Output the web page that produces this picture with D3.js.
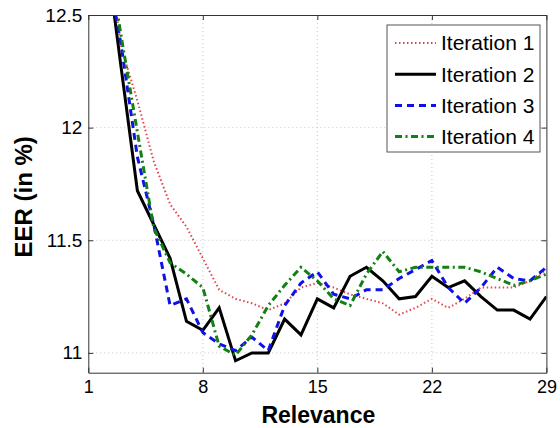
<!DOCTYPE html>
<html>
<head>
<meta charset="utf-8">
<style>
    body { margin: 0; background: #fff; }
    text { font-family: "Liberation Sans", Arial, Helvetica, sans-serif; fill: #000; }
</style>
<script src="https://cdn.jsdelivr.net/npm/d3@7/dist/d3.min.js"></script>
</head>
<body>
<svg id="chart" width="560" height="428"></svg>
<script>
var relevance = [1,2,3,4,5,6,7,8,9,10,11,12,13,14,15,16,17,18,19,20,21,22,23,24,25,26,27,28,29];

var iter1 = [13.60,12.90,12.36,12.12,11.85,11.66,11.56,11.42,11.28,11.24,11.22,11.19,11.22,11.29,11.31,
             11.29,11.26,11.24,11.22,11.17,11.20,11.24,11.20,11.24,11.29,11.29,11.29,11.32,11.37];
var iter2 = [13.50,12.83,12.27,11.72,11.57,11.42,11.14,11.10,11.20,10.965,11.00,11.00,11.15,11.08,11.24,
             11.20,11.34,11.38,11.32,11.24,11.25,11.34,11.29,11.32,11.25,11.19,11.19,11.15,11.25];
var iter3 = [13.40,12.77,12.37,11.87,11.57,11.21,11.24,11.09,11.04,11.01,11.07,11.01,11.21,11.31,11.36,
             11.26,11.24,11.28,11.28,11.33,11.37,11.41,11.29,11.22,11.29,11.38,11.33,11.32,11.38];
var iter4 = [13.30,12.86,12.41,11.98,11.555,11.40,11.35,11.29,11.03,10.99,11.08,11.21,11.30,11.38,11.32,
             11.24,11.21,11.35,11.45,11.36,11.38,11.38,11.38,11.38,11.36,11.33,11.30,11.32,11.35];

var seriesNames = ["Iteration 1", "Iteration 2", "Iteration 3", "Iteration 4"];
var xTicks = [1, 8, 15, 22, 29];
var yTicks = [11, 11.5, 12, 12.5];

// line look per series (matlab r: k- b-- g-.)
var styles = [
    {color: "#e0474c", width: 2, dash: "1.5,2.5"},
    {color: "#000000", width: 3, dash: null},
    {color: "#1010e8", width: 3, dash: "7,5"},
    {color: "#128012", width: 3, dash: "7,3.5,2,3.5"}
];

var svg = d3.select("#chart");
// note: "top" is taken by window.top, so plot box edges get their own names
var pLeft = 88.3, pRight = 546.4, pTop = 15, pBottom = 372.7;

var x = d3.scaleLinear().domain([1, 29]).range([pLeft, pRight]);
var y = d3.scaleLinear().domain([10.912, 12.5]).range([pBottom, pTop]);

svg.append("clipPath").attr("id", "plotclip")
    .append("rect")
    .attr("x", pLeft).attr("y", pTop)
    .attr("width", pRight - pLeft).attr("height", pBottom - pTop);

// grid, dotted like matlab
var grid = svg.append("g").attr("stroke", "#c4c4c4").attr("stroke-width", 1).attr("stroke-dasharray", "1,3");
grid.selectAll(".gx").data(xTicks.slice(1, -1)).join("line")
    .attr("x1", d => x(d)).attr("x2", d => x(d))
    .attr("y1", pTop).attr("y2", pBottom);
grid.selectAll(".gy").data(yTicks.slice(0, -1)).join("line")
    .attr("x1", pLeft).attr("x2", pRight)
    .attr("y1", d => y(d)).attr("y2", d => y(d));

// the lines
var allSeries = [iter1, iter2, iter3, iter4];
var line = d3.line()
    .x((d, i) => x(relevance[i]))
    .y(d => y(d));

svg.append("g").attr("clip-path", "url(#plotclip)")
    .selectAll("path")
    .data(allSeries)
    .join("path")
    .attr("d", d => line(d))
    .attr("fill", "none")
    .attr("stroke", (d, i) => styles[i].color)
    .attr("stroke-width", (d, i) => styles[i].width)
    .attr("stroke-dasharray", (d, i) => styles[i].dash)
    .attr("stroke-linejoin", "miter");

// axes: ticks inward on all four sides
var axisColor = "#333";
var xb = svg.append("g").attr("transform", "translate(0," + pBottom + ")")
    .call(d3.axisBottom(x).tickValues(xTicks).tickSizeInner(-5).tickSizeOuter(0));
var xt = svg.append("g").attr("transform", "translate(0," + pTop + ")")
    .call(d3.axisTop(x).tickValues(xTicks).tickSizeInner(-5).tickSizeOuter(0).tickFormat(""));
var yl = svg.append("g").attr("transform", "translate(" + pLeft + ",0)")
    .call(d3.axisLeft(y).tickValues(yTicks).tickSizeInner(-5).tickSizeOuter(0).tickPadding(6).tickFormat(d3.format("")));
var yr = svg.append("g").attr("transform", "translate(" + pRight + ",0)")
    .call(d3.axisRight(y).tickValues(yTicks).tickSizeInner(-5).tickSizeOuter(0).tickFormat(""));

[xb, xt, yl, yr].forEach(function(g) {
    g.select(".domain").attr("stroke", axisColor);
    g.selectAll(".tick line").attr("stroke", axisColor);
    g.selectAll("text").attr("font-size", "19px")
        .attr("font-family", "Liberation Sans, Arial, sans-serif").attr("fill", "#000");
});
xb.selectAll("text").attr("font-size", "18px").attr("dy", "0.71em").attr("y", 8);

// axis titles
svg.append("text")
    .attr("x", (pLeft + pRight) / 2 + 1)
    .attr("y", 423)
    .attr("text-anchor", "middle")
    .attr("font-size", "23px")
    .attr("font-weight", "bold")
    .text("Relevance");

svg.append("text")
    .attr("transform", "translate(32," + ((pTop + pBottom) / 2 + 3) + ") rotate(-90)")
    .attr("text-anchor", "middle")
    .attr("font-size", "24px")
    .attr("font-weight", "bold")
    .text("EER (in %)");

// legend
var legend = svg.append("g");
legend.append("rect")
    .attr("x", 387).attr("y", 25)
    .attr("width", 153).attr("height", 127)
    .attr("fill", "#fff").attr("stroke", "#555").attr("stroke-width", 1);

var rows = legend.selectAll(".row")
    .data(seriesNames)
    .join("g")
    .attr("transform", (d, i) => "translate(0," + (43 + i * 31.2) + ")");

rows.append("line")
    .attr("x1", 395).attr("x2", 436)
    .attr("y1", 0).attr("y2", 0)
    .attr("stroke", (d, i) => styles[i].color)
    .attr("stroke-width", (d, i) => styles[i].width)
    .attr("stroke-dasharray", (d, i) => styles[i].dash);

rows.append("text")
    .attr("x", 441)
    .attr("y", 0)
    .attr("dy", "0.35em")
    .attr("font-size", "21px")
    .text(d => d);
</script>
</body>
</html>
